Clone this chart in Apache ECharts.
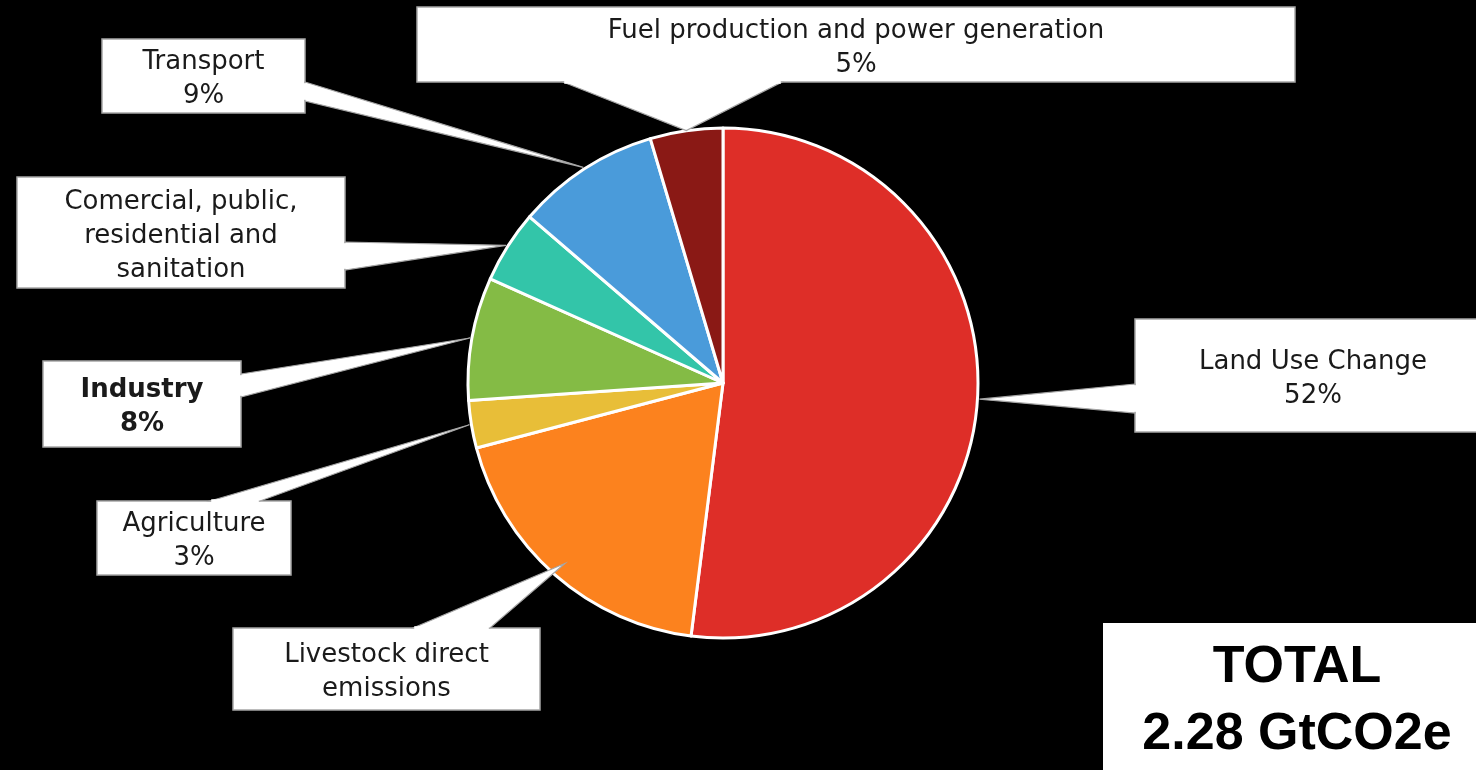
<!DOCTYPE html>
<html><head><meta charset="utf-8">
<script src="https://cdn.jsdelivr.net/npm/echarts@6/dist/echarts.min.js"></script>
<style>html,body{margin:0;padding:0;background:#000;overflow:hidden}#c{width:1476px;height:770px}</style>
</head><body><div id="c"></div>
<script>
// ---- data ----
const categories = ['Land Use Change','Livestock direct emissions','Agriculture','Industry','Comercial, public, residential and sanitation','Transport','Fuel production and power generation'];
const labelTexts = ['Land Use Change','Livestock direct\nemissions','Agriculture','Industry','Comercial, public,\nresidential and\nsanitation','Transport','Fuel production and power generation'];
const shares = [52.0, 18.9, 3.0, 7.8, 4.6, 9.1, 4.6];
const showPercent = [true, false, true, true, false, true, true];
const totalLines = ['TOTAL', '2.28 GtCO2e'];

// ---- styles / layout ----
const colors = ['#DE2E28','#FC821E','#E8BE38','#84BB45','#33C5A9','#4A9BDA','#8A1915'];
const boldLabels = { 'Industry': true };
const boxes = [
  {x:1135,y:319,w:356,h:113, base:[[1135,384],[1135,413]], tipR:2},
  {x:233, y:628,w:307,h:82,  base:[[413,628],[490,628]],   tipR:-15},
  {x:97,  y:501,w:194,h:74,  base:[[210,501],[260,501]],   tipR:2},
  {x:43,  y:361,w:198,h:86,  base:[[241,374],[241,397]],   tipR:2},
  {x:17,  y:177,w:328,h:111, base:[[345,242],[345,270]],   tipR:2},
  {x:102, y:39, w:203,h:74,  base:[[305,82],[305,101]],    tipR:2},
  {x:417, y:7,  w:878,h:75,  base:[[563,82],[782,82]],     tipR:0}
];
const LH = 34;
const TEXT_SHIFT = 3.5;
const FONT = 'DejaVu Sans';

function labelText(i){
  return labelTexts[i] + (showPercent[i] ? '\n' + Math.round(shares[i]) + '%' : '');
}

const chart = echarts.init(document.getElementById('c'), null, {renderer:'canvas'});
const seriesData = categories.map((name, i) => ({
  name: name,
  value: shares[i],
  itemStyle: { color: colors[i] },
  label: { fontWeight: boldLabels[name] ? 'bold' : 'normal' }
}));

const boxGraphics = boxes.map((b, i) => ({
  id: 'box' + i, type: 'rect', z: 40,
  shape: { x: b.x, y: b.y, width: b.w, height: b.h },
  style: { fill: '#ffffff', stroke: '#a6a6a6', lineWidth: 1.5 }
}));

const option = {
  backgroundColor: '#000',
  animation: false,
  series: [{
    type: 'pie',
    z: 45,
    center: [723, 383],
    radius: 255,
    startAngle: 90,
    clockwise: true,
    avoidLabelOverlap: false,
    emphasis: { disabled: true },
    itemStyle: { borderColor: '#fff', borderWidth: 3 },
    label: {
      show: true,
      position: 'outside',
      formatter: p => labelText(p.dataIndex),
      color: '#1a1a1a',
      fontFamily: FONT,
      fontSize: 26,
      lineHeight: LH,
      align: 'center'
    },
    labelLine: { show: false },
    labelLayout: function (params) {
      const b = boxes[params.dataIndex];
      return { x: b.x + b.w / 2, y: b.y + b.h / 2 + TEXT_SHIFT, align: 'center', verticalAlign: 'middle' };
    },
    data: seriesData
  }],
  graphic: boxGraphics.concat([
    { id:'totalBox', type:'rect', z:60, shape:{x:1103,y:623,width:400,height:170}, style:{fill:'#fff'} },
    { id:'totalT1', type:'text', z:61, x:1297, y:668, style:{text:totalLines[0], fill:'#000', font:'bold 52px "Liberation Sans", Arial, sans-serif', textAlign:'center', textVerticalAlign:'middle'} },
    { id:'totalT2', type:'text', z:61, x:1297, y:735, style:{text:totalLines[1], fill:'#000', font:'bold 52px "Liberation Sans", Arial, sans-serif', textAlign:'center', textVerticalAlign:'middle'} }
  ])
};
chart.setOption(option);

// callout wedges from each label box to the middle of its slice (tip taken from the pie layout)
const data = chart.getModel().getSeriesByIndex(0).getData();
const wedges = [];
boxes.forEach((b, i) => {
  const L = data.getItemLayout(i);
  const mid = (L.startAngle + L.endAngle) / 2;
  const R = L.r + b.tipR;
  const tip = [L.cx + R * Math.cos(mid), L.cy + R * Math.sin(mid)];
  const a = b.base[0].slice(), c = b.base[1].slice();
  wedges.push({ id:'wp'+i, type:'polygon', z:50,
    shape:{ points:[a.slice(), tip.slice(), c.slice()] },
    style:{ fill:'#ffffff', stroke:'#a6a6a6', lineWidth:1.2 } });
  const dx = c[0] - a[0], dy = c[1] - a[1], len = Math.hypot(dx, dy);
  const ux = dx / len, uy = dy / len;
  wedges.push({ id:'wl'+i, type:'line', z:52,
    shape:{ x1:a[0] + ux * 1.2, y1:a[1] + uy * 1.2, x2:c[0] - ux * 1.2, y2:c[1] - uy * 1.2 },
    style:{ stroke:'#ffffff', lineWidth:3.5 } });
});
chart.setOption({ graphic: wedges });
</script>
</body></html>
